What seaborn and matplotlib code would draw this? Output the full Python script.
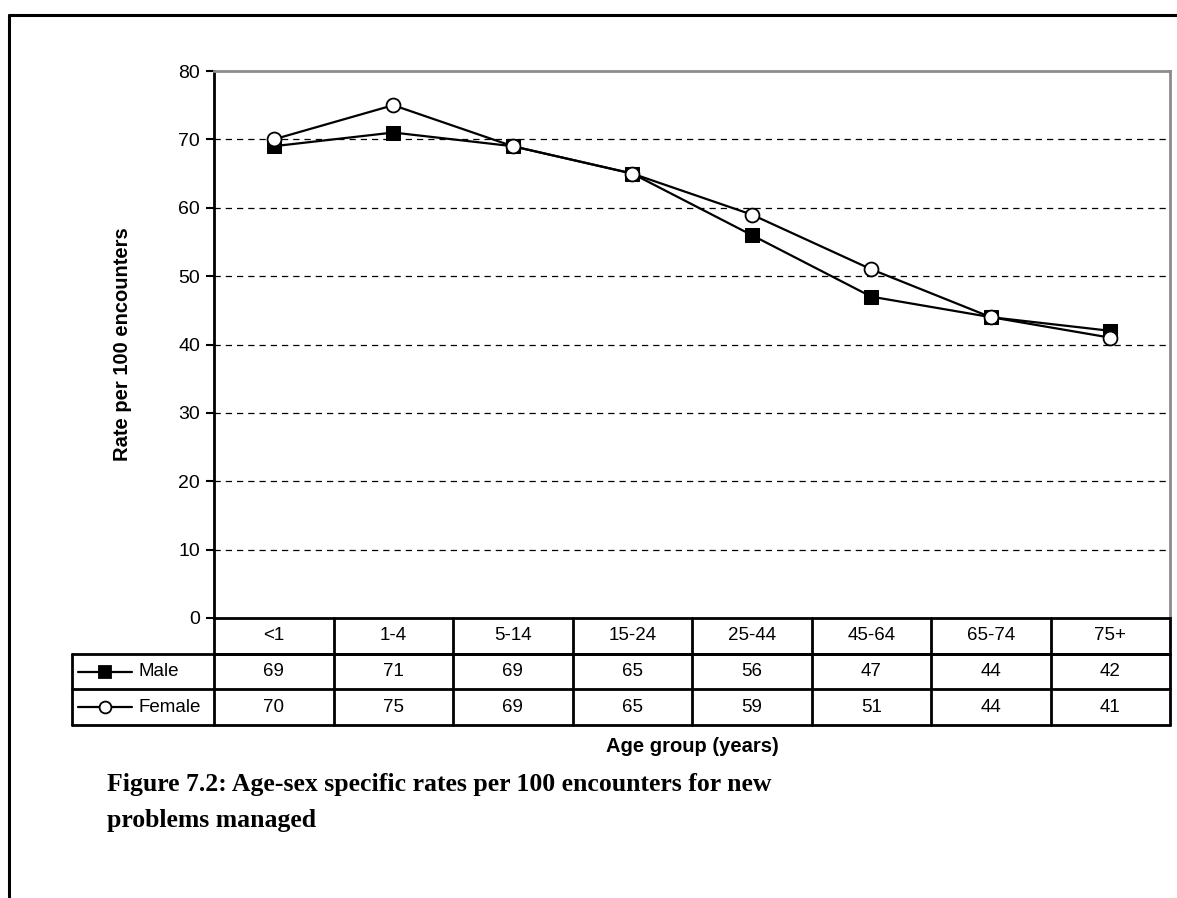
import pandas as pd
import matplotlib.pyplot as plt
import seaborn as sns
from matplotlib.lines import Line2D

# Data
age_groups = ['<1', '1-4', '5-14', '15-24', '25-44', '45-64', '65-74', '75+']
male = [69, 71, 69, 65, 56, 47, 44, 42]
female = [70, 75, 69, 65, 59, 51, 44, 41]
y_ticks = [0, 10, 20, 30, 40, 50, 60, 70, 80]

df = pd.DataFrame({'pos': range(len(age_groups)), 'age': age_groups,
                   'Male': male, 'Female': female})

sns.set_style("white")
plt.rcParams['font.family'] = ['Liberation Sans', 'DejaVu Sans']
plt.rcParams['text.color'] = 'black'
plt.rcParams['ytick.color'] = 'black'
plt.rcParams['axes.labelcolor'] = 'black'

fig = plt.figure(figsize=(11.77, 8.98), dpi=100)
ax = fig.add_axes([214 / 1177, 1 - 618 / 898, 956 / 1177, 547 / 898])

# Dashed gridlines
for v in y_ticks[1:-1]:
    ax.axhline(v, color='black', lw=0.9, ls=(0, (5, 4)), zorder=0)

sns.lineplot(data=df, x='pos', y='Male', ax=ax, color='black', lw=1.6,
             marker='s', markersize=9.5, markerfacecolor='black',
             markeredgecolor='black')
sns.lineplot(data=df, x='pos', y='Female', ax=ax, color='black', lw=1.6,
             marker='o', markersize=10, markerfacecolor='white',
             markeredgecolor='black', markeredgewidth=1.3)

ax.set_xlim(-0.5, len(age_groups) - 0.5)
ax.set_ylim(0, 80)
ax.set_yticks(y_ticks)
ax.set_xticks([])
ax.set_xlabel('')
ax.set_ylabel('Rate per 100 encounters', fontsize=14.5, fontweight='bold', labelpad=33)
ax.tick_params(axis='y', direction='out', length=6, width=1.5, color='black',
               labelsize=14, pad=4, left=True)
for s in ['left', 'bottom']:
    ax.spines[s].set_color('black')
    ax.spines[s].set_linewidth(2)
for s in ['top', 'right']:
    ax.spines[s].set_color('#8c8c8c')
    ax.spines[s].set_linewidth(2)

# Data table below the axes (axes coordinates)
n = len(age_groups)
row_h = 107 / 547 / 3
left_x = -142 / 956
fs = 13.5
kw = dict(transform=ax.transAxes, clip_on=False, color='black', lw=2)
# horizontal lines
ax.plot([0, 1], [-row_h, -row_h], **kw)
ax.plot([left_x, 1], [-row_h, -row_h], **kw)
ax.plot([left_x, 1], [-2 * row_h, -2 * row_h], **kw)
ax.plot([left_x, 1], [-3 * row_h, -3 * row_h], **kw)
# vertical lines
for i in range(n + 1):
    ax.plot([i / n, i / n], [0, -3 * row_h], **kw)
ax.plot([left_x, left_x], [-row_h, -3 * row_h], **kw)

for i, lab in enumerate(age_groups):
    xc = (i + 0.5) / n
    ax.text(xc, -0.5 * row_h, lab, transform=ax.transAxes, ha='center', va='center', fontsize=fs)
    ax.text(xc, -1.5 * row_h, str(male[i]), transform=ax.transAxes, ha='center', va='center', fontsize=fs)
    ax.text(xc, -2.5 * row_h, str(female[i]), transform=ax.transAxes, ha='center', va='center', fontsize=fs)

# legend keys in the table
for r, (name, mk, fc, ms) in enumerate([('Male', 's', 'black', 8), ('Female', 'o', 'white', 8.5)]):
    yc = -(1.5 + r) * row_h
    x0, x1 = left_x + 6 / 956, left_x + 60 / 956
    ax.add_line(Line2D([x0, x1], [yc, yc], transform=ax.transAxes, clip_on=False,
                       color='black', lw=1.6))
    ax.add_line(Line2D([(x0 + x1) / 2], [yc], transform=ax.transAxes, clip_on=False,
                       marker=mk, markersize=ms, markerfacecolor=fc,
                       markeredgecolor='black', markeredgewidth=1.3, lw=0))
    ax.text(left_x + 66 / 956, yc, name, transform=ax.transAxes, ha='left', va='center', fontsize=fs)

fig.text(692 / 1177, 1 - 746 / 898, 'Age group (years)', ha='center', va='center',
         fontsize=14.5, fontweight='bold')

# caption
fig.text(107 / 1177, 1 - 784 / 898, 'Figure 7.2: Age-sex specific rates per 100 encounters for new',
         ha='left', va='center', fontsize=18.5, fontweight='bold', family='Liberation Serif')
fig.text(107 / 1177, 1 - 820 / 898, 'problems managed',
         ha='left', va='center', fontsize=18.5, fontweight='bold', family='Liberation Serif')

# outer frame
fig.add_artist(Line2D([9 / 1177, 9 / 1177], [0, 1 - 15 / 898], transform=fig.transFigure,
                      color='black', lw=2.2))
fig.add_artist(Line2D([9 / 1177, 1], [1 - 15 / 898, 1 - 15 / 898], transform=fig.transFigure,
                      color='black', lw=2.2))

plt.savefig('out.png', dpi=100)
plt.close()
